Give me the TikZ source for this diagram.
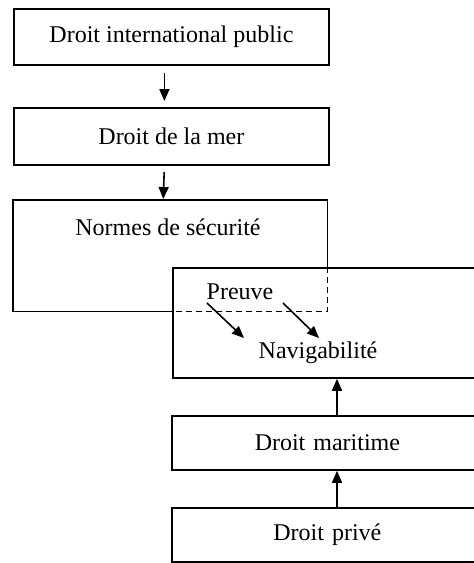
\documentclass[tikz,border=0pt]{standalone}
\usepackage{fontspec}
\setmainfont{Liberation Serif}
\usetikzlibrary{arrows.meta}
\begin{document}
\begin{tikzpicture}[x=1pt,y=-1pt,
  box/.style={draw, line width=1.8pt, inner sep=0pt, anchor=north west, font=\fontsize{24}{27}\selectfont},
  frame/.style={inner sep=0pt, anchor=north west},
  lbl/.style={inner sep=0pt, font=\fontsize{24}{27}\selectfont},
  arr/.style={line width=1.6pt, -{Triangle[length=12pt,width=10pt]}},
  line/.style={line width=1.8pt}]
\useasboundingbox (0,0) rectangle (474,563);
\begin{scope}
\clip (0,0) rectangle (474,563);
% top column
\node[box, minimum width=315pt, minimum height=56pt] (dip) at (13,8) {Droit international public};
\node[box, minimum width=315pt, minimum height=57pt] (dm) at (13,107) {Droit de la mer};
\node[frame, minimum width=314pt, minimum height=111pt] (ns) at (13,200) {};
\node[lbl] (nstxt) at (168,227) {Normes de sécurité};
% right column
\node[box, minimum width=311pt, minimum height=110pt] (nav) at (172,267) {};
\node[lbl] (navtxt) at (318,353) {Navigabilité};
\node[lbl] (preuve) at (240,292) {Preuve};
\node[box, minimum width=312pt, minimum height=54pt, text width=312pt, align=center] (mar) at (171,415) {\hspace*{-1pt}Droit maritime\hspace*{11pt}};
\node[box, minimum width=312pt, minimum height=54pt, text width=312pt, align=center] (prive) at (171,507) {\hspace*{-1pt}Droit privé\hspace*{11pt}};
% Normes de securite frame: solid and dashed parts
\draw[line] (nav.west |- ns.south) -- (ns.south west) -- (ns.north west) -- (ns.north east) -- (ns.east |- nav.north);
\draw[line, dash pattern=on 6pt off 4pt] (ns.east |- nav.north) -- (ns.south east) -- (nav.west |- ns.south);
% connectors
\draw[arr, shorten <=7pt, shorten >=6pt] ([xshift=-7pt]dip.south) -- ([xshift=-7pt]dm.north);
\draw[arr, shorten <=6pt, shorten >=1pt] ([xshift=-7pt]dm.south) -- ([xshift=-7pt]ns.north);
\coordinate (p1s) at (207,303);
\coordinate (p1e) at (244,338);
\coordinate (p2s) at (283,303);
\coordinate (p2e) at (319,338);
\draw[arr] (p1s) -- (p1e);
\draw[arr] (p2s) -- (p2e);
\draw[arr] (mar.north -| 337,0) -- (nav.south -| 337,0);
\draw[arr] (prive.north -| 337,0) -- (mar.south -| 337,0);
\end{scope}
\end{tikzpicture}
\end{document}
